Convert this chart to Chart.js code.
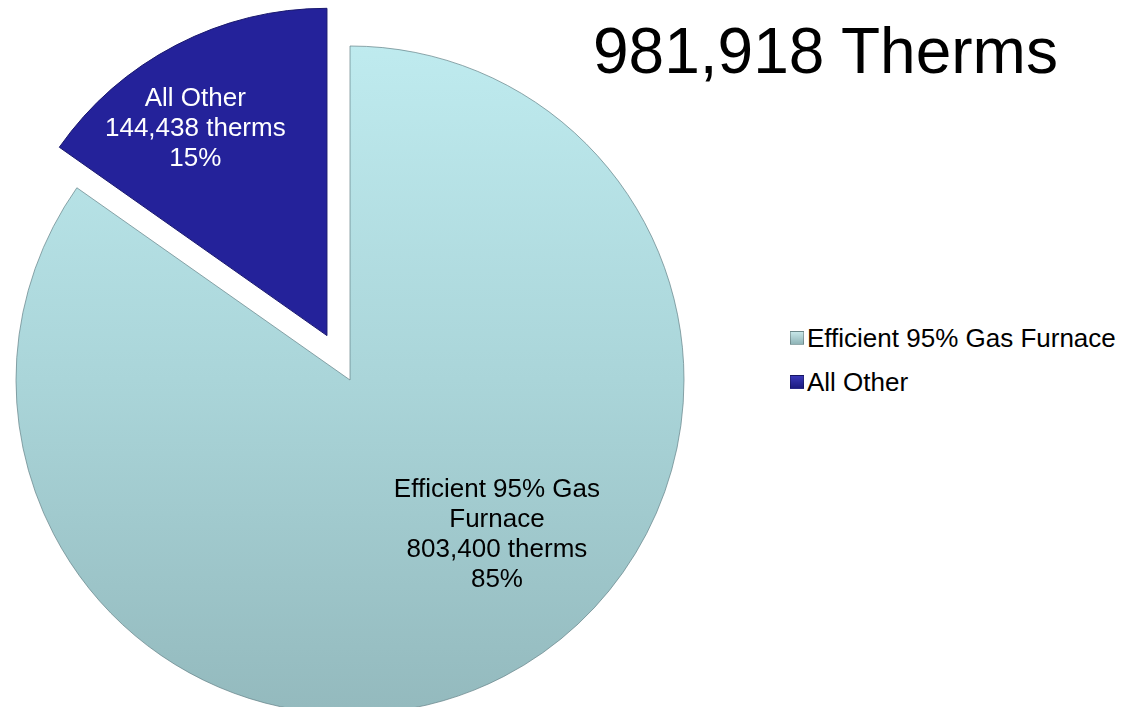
<!DOCTYPE html>
<html lang="en">
<head>
    <meta charset="UTF-8">
    <title>981,918 Therms</title>
    <script src="https://cdn.jsdelivr.net/npm/chart.js@4.4.1/dist/chart.umd.min.js"></script>
    <style>
        body {
            margin: 0;
            width: 1127px;
            height: 707px;
            overflow: hidden;
            background: #ffffff;
            font-family: 'Liberation Sans', Arial, sans-serif;
            position: relative;
        }
        #pieBox {
            position: absolute;
            left: 0;
            top: 0;
            width: 700px;
            height: 760px;
        }
        #title {
            position: absolute;
            left: 593px;
            top: 19px;
            font-size: 64px;
            line-height: 64px;
            color: #000;
            white-space: nowrap;
        }
        #legend {
            position: absolute;
            left: 790px;
            top: 316px;
        }
        .legend-row {
            height: 44px;
            display: flex;
            align-items: center;
            font-size: 26px;
            color: #000;
            white-space: nowrap;
        }
        .legend-box {
            width: 12px;
            height: 12px;
            margin-right: 3px;
            border: 1px solid rgba(0, 0, 0, 0.25);
        }
    </style>
</head>
<body>

    <div id="title"></div>
    <div id="pieBox"><canvas id="pieChart"></canvas></div>
    <div id="legend"></div>

    <script>
        // chart data
        var categories = ['Efficient 95% Gas Furnace', 'All Other'];
        var therms = [803400, 144438];
        var titleTotal = 981918;

        // looks
        var sliceColors = ['#acd9dd', '#24229a'];
        var labelColors = ['#000000', '#ffffff'];
        var explodePx = [0, 50];
        var radiusScale = [1, 0.98];
        var labelTurn = [-16, -5];      // degrees off the bisector
        var labelRadius = [0.64, 0.75]; // fraction of radius

        function fmt(n) {
            return n.toLocaleString('en-US');
        }

        document.getElementById('title').textContent = fmt(titleTotal) + ' Therms';

        var legendEl = document.getElementById('legend');
        categories.forEach(function(name, i) {
            var row = document.createElement('div');
            row.className = 'legend-row';
            var box = document.createElement('span');
            box.className = 'legend-box';
            box.style.background = 'linear-gradient(180deg, ' + (i === 0 ? '#c6e6e8, #8fb4b7' : '#3a38b8, #1c1b80') + ')';
            var txt = document.createElement('span');
            txt.textContent = name;
            row.appendChild(box);
            row.appendChild(txt);
            legendEl.appendChild(row);
        });

        // push exploded slices out along their bisector
        var explodePlugin = {
            id: 'explode',
            afterDatasetUpdate: function(chart, args) {
                var meta = chart.getDatasetMeta(args.index);
                meta.data.forEach(function(arc, i) {
                    arc.outerRadius = arc.outerRadius * radiusScale[i];
                    var d = explodePx[i] || 0;
                    if (!d) return;
                    var mid = (arc.startAngle + arc.endAngle) / 2;
                    arc.x += Math.cos(mid) * d;
                    arc.y += Math.sin(mid) * d;
                });
            }
        };

        function wrap(ctx, text, maxW) {
            var words = text.split(' ');
            var lines = [];
            var cur = '';
            words.forEach(function(w) {
                var test = cur ? cur + ' ' + w : w;
                if (cur && ctx.measureText(test).width > maxW) {
                    lines.push(cur);
                    cur = w;
                } else {
                    cur = test;
                }
            });
            if (cur) lines.push(cur);
            return lines;
        }

        var sliceLabels = {
            id: 'sliceLabels',
            afterDatasetsDraw: function(chart) {
                var ctx = chart.ctx;
                var meta = chart.getDatasetMeta(0);
                var total = therms.reduce(function(a, b) { return a + b; }, 0);
                ctx.save();
                ctx.font = '26px "Liberation Sans", Arial, sans-serif';
                ctx.textAlign = 'center';
                ctx.textBaseline = 'middle';
                meta.data.forEach(function(arc, i) {
                    var mid = (arc.startAngle + arc.endAngle) / 2 + labelTurn[i] * Math.PI / 180;
                    var r = arc.outerRadius * labelRadius[i];
                    var x = arc.x + Math.cos(mid) * r;
                    var y = arc.y + Math.sin(mid) * r;
                    var lines = wrap(ctx, categories[i], 230);
                    lines.push(fmt(therms[i]) + ' therms');
                    lines.push(Math.round(therms[i] / total * 100) + '%');
                    var lh = 30;
                    var y0 = y - (lines.length - 1) * lh / 2;
                    ctx.fillStyle = labelColors[i];
                    lines.forEach(function(line, k) {
                        ctx.fillText(line, x, y0 + k * lh);
                    });
                });
                ctx.restore();
            }
        };

        var ctxPie = document.getElementById('pieChart').getContext('2d');
        var pieChart = new Chart(ctxPie, {
            type: 'pie',
            data: {
                labels: categories,
                datasets: [{
                    data: therms,
                    backgroundColor: function(c) {
                        if (c.dataIndex === 0) {
                            var g = c.chart.ctx.createLinearGradient(0, 40, 0, 720);
                            g.addColorStop(0, '#bfebef');
                            g.addColorStop(0.5, '#aad5d9');
                            g.addColorStop(1, '#93b9bd');
                            return g;
                        }
                        return sliceColors[c.dataIndex];
                    },
                    borderColor: ['rgba(100,130,135,0.7)', '#1a196e'],
                    borderWidth: 1
                }]
            },
            options: {
                responsive: true,
                maintainAspectRatio: false,
                animation: false,
                events: [],
                radius: 334,
                layout: { padding: 0 },
                plugins: {
                    legend: { display: false },
                    tooltip: { enabled: false }
                }
            },
            plugins: [explodePlugin, sliceLabels]
        });
    </script>
</body>
</html>
